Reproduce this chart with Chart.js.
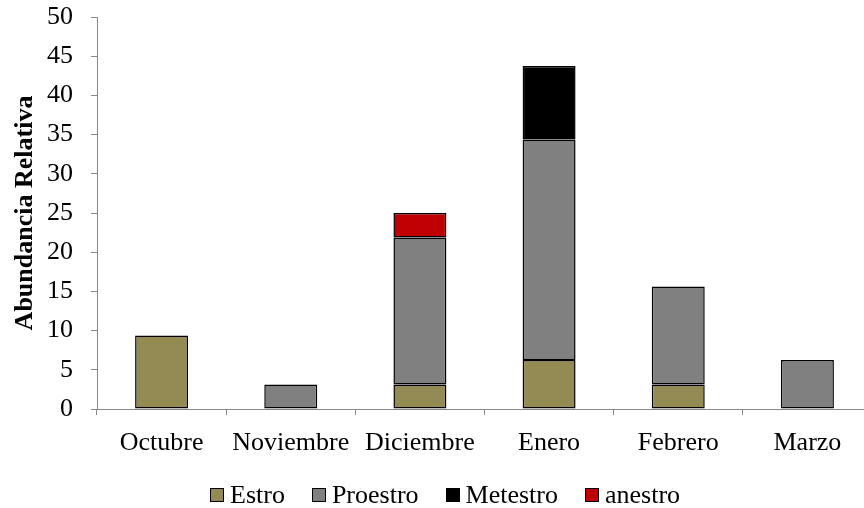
<!DOCTYPE html>
<html>
<head>
<meta charset="utf-8">
<script src="https://cdn.jsdelivr.net/npm/chart.js@4.4.0/dist/chart.umd.min.js"></script>
<style>
  html, body { margin: 0; padding: 0; background: #fff; }
  #wrap { position: relative; width: 864px; height: 508px; overflow: hidden; }
  #box { position: absolute; left: 0; top: 0; width: 880px; height: 508px; }
  #legend { position: absolute; left: 210px; top: 481px; display: flex; align-items: center;
            font-family: "Liberation Serif", "Times New Roman", serif; font-size: 26px; color: #000; line-height: 28px; }
  .item { display: flex; align-items: center; margin-right: 27px; }
  .sw { width: 12px; height: 12px; border: 1px solid #000; margin-right: 6px; }
</style>
</head>
<body>
<div id="wrap">
  <div id="box"><canvas id="c"></canvas></div>
  <div id="legend"></div>
</div>
<script>
const categories = ["Octubre", "Noviembre", "Diciembre", "Enero", "Febrero", "Marzo"];
const estro    = [9.375, null, 3.125, 6.25, 3.125, null];
const proestro = [null, 3.125, 18.75, 28.125, 12.5, 6.25];
const metestro = [null, null, null, 9.375, null, null];
const anestro  = [null, null, 3.125, null, null, null];
const seriesNames = ["Estro", "Proestro", "Metestro", "anestro"];
const seriesColors = ["#948A54", "#808080", "#000000", "#C00000"];
const yTitle = "Abundancia Relativa";
const yMin = 0, yMax = 50, yStep = 5;

const font = "'Liberation Serif', 'Times New Roman', serif";
const allData = [estro, proestro, metestro, anestro];
const datasets = seriesNames.map((n, i) => ({
  label: n,
  data: allData[i],
  backgroundColor: seriesColors[i],
  borderColor: "#000",
  borderWidth: 1.5,
  borderSkipped: false,
  categoryPercentage: 1,
  barPercentage: 0.41
}));

new Chart(document.getElementById("c"), {
  type: "bar",
  data: { labels: categories, datasets },
  options: {
    responsive: true,
    maintainAspectRatio: false,
    animation: false,
    layout: { padding: { top: 17, right: 8, left: 0, bottom: 0 } },
    plugins: { legend: { display: false }, tooltip: { enabled: false } },
    scales: {
      x: {
        stacked: true,
        grid: { drawOnChartArea: false, drawTicks: true, tickLength: 6, color: "#888", offset: true },
        border: { color: "#888", width: 1 },
        ticks: { color: "#000", font: { family: font, size: 26 }, padding: 13, maxRotation: 0, autoSkip: false },
        afterFit: s => { s.height = 99; s.paddingLeft = 0; s.paddingRight = 0; }
      },
      y: {
        stacked: true,
        min: yMin, max: yMax,
        grid: { drawOnChartArea: false, drawTicks: true, tickLength: 6, color: "#888" },
        border: { color: "#888", width: 1 },
        ticks: { stepSize: yStep, color: "#000", font: { family: font, size: 26 }, padding: 18 },
        title: { display: true, text: yTitle, color: "#000", font: { family: font, size: 26, weight: "bold" }, padding: { top: 10, bottom: 0 } },
        afterFit: s => { s.width = 97; s.paddingTop = 0; s.paddingBottom = 0; }
      }
    }
  }
});

const lg = document.getElementById("legend");
seriesNames.forEach((n, i) => {
  const it = document.createElement("div");
  it.className = "item";
  const sw = document.createElement("div");
  sw.className = "sw";
  sw.style.background = seriesColors[i];
  const tx = document.createElement("span");
  tx.textContent = n;
  it.appendChild(sw); it.appendChild(tx);
  lg.appendChild(it);
});
</script>
</body>
</html>
